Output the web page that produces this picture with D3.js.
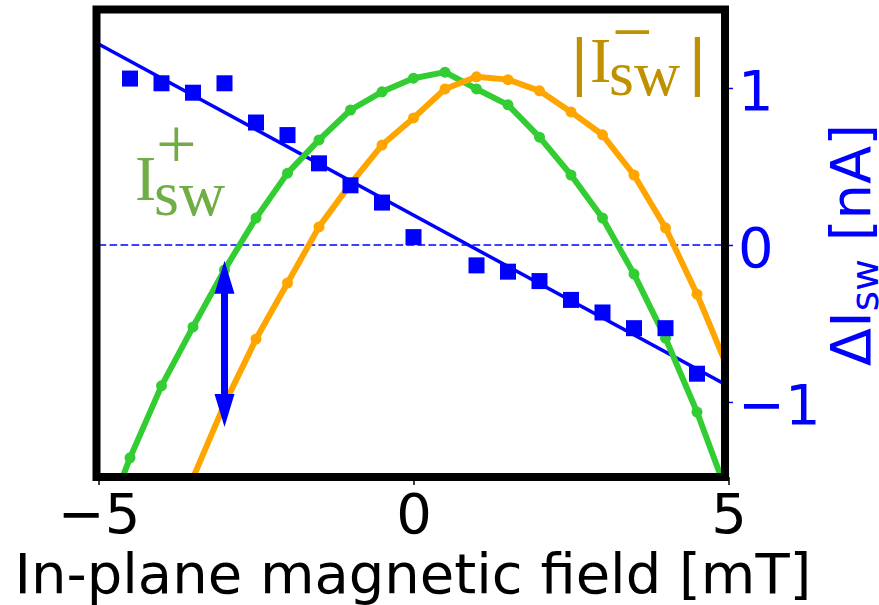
<!DOCTYPE html>
<html><head><meta charset="utf-8">
<script src="https://cdn.jsdelivr.net/npm/d3@7"></script>
<style>html,body{margin:0;padding:0;background:#fff;} svg{display:block;}</style>
</head><body>
<svg id="chart" width="879" height="605"></svg>
<script>
// ---- data ----
const greenField   = [-5, -4.5, -4, -3.5, -3, -2.5, -2, -1.5, -1, -0.5, 0, 0.5, 1, 1.5, 2, 2.5, 3, 3.5, 4, 4.5, 5];
const greenCurrent = [-13.5, 4.1, 19.5, 32.1, 44.3, 55.4, 65.0, 72.1, 78.5, 82.4, 85.3, 86.6, 83.0, 79.6, 72.7, 64.6, 55.4, 43.4, 29.7, 13.9, -4.3];
const orangeField   = [-4, -3.5, -3, -2.5, -2, -1.5, -1, -0.5, 0, 0.5, 1, 1.5, 2, 2.5, 3, 3.5, 4, 4.5, 5];
const orangeCurrent = [-18.8, -0.2, 15.6, 29.5, 41.5, 53.5, 62.7, 71.0, 76.8, 83.0, 85.6, 85.0, 82.6, 78.1, 73.2, 64.6, 53.3, 39.1, 22.9];
const deltaField   = [-4.5, -4, -3.5, -3, -2.5, -2, -1.5, -1, -0.5, 0, 1, 1.5, 2, 2.5, 3, 3.5, 4, 4.5];
const deltaCurrent = [1.06, 1.03, 0.97, 1.03, 0.78, 0.70, 0.52, 0.38, 0.27, 0.05, -0.13, -0.17, -0.23, -0.35, -0.43, -0.53, -0.53, -0.82];
const fitField   = [-5, 5];
const fitCurrent = [1.28, -0.90];
const zeroField  = [-5, 5];
const zeroCurrent = [0, 0];
const arrowField   = [-3, -3];
const arrowCurrent = [-0.10, -1.16];
const xTickValues = [-5, 0, 5];
const rightTickValues = [-1, 0, 1];
const xLabelText = "In-plane magnetic field [mT]";

// ---- layout ----
const svg = d3.select("#chart");
const frame = {left: 96.5, right: 725, top: 9.5, bottom: 477};
const x  = d3.scaleLinear().domain([-5, 5]).range([98.5, 728.5]);
const yR = d3.scaleLinear().domain([-1.478, 1.5]).range([477, 9.5]);
const yL = d3.scaleLinear().domain([0, 100]).range([477, 9.5]);

const BLUE = "#0000ff", GREEN = "#32cd32", ORANGE = "#ffa500";

svg.append("defs").append("clipPath").attr("id", "clip")
  .append("rect").attr("x", frame.left).attr("y", frame.top)
  .attr("width", frame.right - frame.left).attr("height", frame.bottom - frame.top);

const plot = svg.append("g").attr("clip-path", "url(#clip)");

// fit line & zero line (right axis)
const lineR = d3.line().x(d => x(d[0])).y(d => yR(d[1]));
plot.append("path").datum(d3.zip(fitField, fitCurrent))
  .attr("d", lineR).attr("fill", "none").attr("stroke", BLUE).attr("stroke-width", 3.5);
plot.append("path").datum(d3.zip(zeroField, zeroCurrent))
  .attr("d", lineR).attr("fill", "none").attr("stroke", BLUE).attr("stroke-width", 1.5)
  .attr("stroke-dasharray", "7.7,3.3");

// green & orange curves (left axis)
const lineL = d3.line().x(d => x(d[0])).y(d => yL(d[1]));
function curve(fx, fy, color) {
  const pts = d3.zip(fx, fy);
  plot.append("path").datum(pts).attr("d", lineL).attr("fill", "none")
    .attr("stroke", color).attr("stroke-width", 6).attr("stroke-linejoin", "round");
  plot.append("g").selectAll("circle").data(pts).join("circle")
    .attr("cx", d => x(d[0])).attr("cy", d => yL(d[1])).attr("r", 5.5).attr("fill", color);
}
curve(greenField, greenCurrent, GREEN);
curve(orangeField, orangeCurrent, ORANGE);

// blue squares
const sq = 16;
plot.append("g").selectAll("rect").data(d3.zip(deltaField, deltaCurrent)).join("rect")
  .attr("x", d => x(d[0]) - sq / 2).attr("y", d => yR(d[1]) - sq / 2)
  .attr("width", sq).attr("height", sq).attr("fill", BLUE);

// double arrow
{
  const ax = x(arrowField[0]);
  const yTop = yR(arrowCurrent[0]), yBot = yR(arrowCurrent[1]);
  const hw = 10, hl = 33, sw = 3.5;
  const p = d3.path();
  p.moveTo(ax, yTop);
  p.lineTo(ax + hw, yTop + hl); p.lineTo(ax + sw, yTop + hl);
  p.lineTo(ax + sw, yBot - hl); p.lineTo(ax + hw, yBot - hl);
  p.lineTo(ax, yBot);
  p.lineTo(ax - hw, yBot - hl); p.lineTo(ax - sw, yBot - hl);
  p.lineTo(ax - sw, yTop + hl); p.lineTo(ax - hw, yTop + hl);
  p.closePath();
  plot.append("path").attr("d", p.toString()).attr("fill", BLUE);
}

// ---- axes ----
const xAxis = svg.append("g").attr("transform", `translate(0,${frame.bottom})`)
  .call(d3.axisBottom(x).tickValues(xTickValues).tickSize(8).tickPadding(8)
        .tickFormat(d => d < 0 ? "\u2212" + Math.abs(d) : String(d)));
xAxis.select(".domain").remove();
xAxis.selectAll("line").attr("stroke", "#000").attr("stroke-width", 1.5);
xAxis.selectAll("text").attr("font-family", "DejaVu Sans").attr("font-size", 56).attr("fill", "#000");

const rAxis = svg.append("g").attr("transform", `translate(${frame.right},0)`)
  .call(d3.axisRight(yR).tickValues(rightTickValues).tickSize(8).tickPadding(5)
        .tickFormat(d => d < 0 ? "\u2212" + Math.abs(d) : String(d)));
rAxis.select(".domain").remove();
rAxis.selectAll("line").attr("stroke", BLUE).attr("stroke-width", 1.5);
rAxis.selectAll("text").attr("font-family", "DejaVu Sans").attr("font-size", 56)
  .attr("fill", BLUE).attr("dy", "0.39em");

// frame (spines)
svg.append("rect").attr("x", frame.left).attr("y", frame.top)
  .attr("width", frame.right - frame.left).attr("height", frame.bottom - frame.top)
  .attr("fill", "none").attr("stroke", "#000").attr("stroke-width", 8);

// x label
svg.append("text").attr("x", 413).attr("y", 593).attr("text-anchor", "middle")
  .attr("font-family", "DejaVu Sans").attr("font-size", 56).attr("fill", "#000")
  .text(xLabelText);

// right y label
const yl = svg.append("text").attr("transform", "translate(870,245) rotate(-90)")
  .attr("text-anchor", "middle").attr("font-family", "DejaVu Sans")
  .attr("font-size", 56).attr("fill", BLUE);
yl.append("tspan").text("\u0394I");
yl.append("tspan").attr("font-size", 39).attr("dy", 8).text("sw");
yl.append("tspan").attr("dy", -8).text(" [nA]");

// annotations
const serif = "Liberation Serif";
const gLab = svg.append("g").attr("fill", "#70ad47").attr("font-family", serif);
gLab.append("text").attr("x", 135).attr("y", 200).attr("font-size", 64).text("I");
gLab.append("text").attr("x", 154).attr("y", 215).attr("font-size", 64).text("sw");
gLab.append("text").attr("x", 156).attr("y", 168).attr("font-size", 72).text("+");

const oLab = svg.append("g").attr("fill", "#bf9000").attr("font-family", serif);
oLab.append("text").attr("x", 573).attr("y", 82).attr("font-size", 64)
  .attr("stroke", "#bf9000").attr("stroke-width", 2).text("|");
oLab.append("text").attr("x", 590).attr("y", 82).attr("font-size", 64).text("I");
oLab.append("text").attr("x", 609).attr("y", 95).attr("font-size", 64).text("sw");
oLab.append("text").attr("x", 612).attr("y", 56).attr("font-size", 72).text("\u2212");
oLab.append("text").attr("x", 691).attr("y", 82).attr("font-size", 64)
  .attr("stroke", "#bf9000").attr("stroke-width", 2).text("|");
</script>
</body></html>
